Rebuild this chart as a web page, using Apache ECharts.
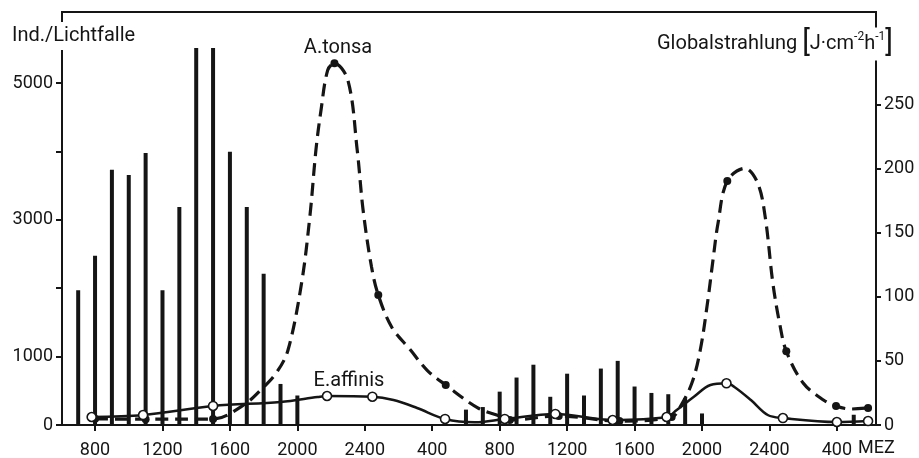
<!DOCTYPE html>
<html>
<head>
<meta charset="utf-8">
<script src="https://cdn.jsdelivr.net/npm/echarts@6/dist/echarts.min.js"></script>
<style>
  html, body { margin: 0; padding: 0; background: #fff; }
  #chart { width: 919px; height: 458px; }
</style>
</head>
<body>
<div id="chart"></div>
<script>
// hours counted from midnight of day 1 (24 = 2400, 28 = 400 next day ...)
const hourTicks = [8, 12, 16, 20, 24, 28, 32, 36, 40, 44, 48, 52];
const leftTicks = [0, 1000, 2000, 3000, 4000, 5000];
const leftLabels = [0, 1000, 3000, 5000];
const rightTicks = [0, 50, 100, 150, 200, 250];

// Globalstrahlung (J/cm2 h), hourly bars
const radHours = [7, 8, 9, 10, 11, 12, 13, 14, 15, 16, 17, 18, 19, 20,
  30, 31, 32, 33, 34, 35, 36, 37, 38, 39, 40, 41, 42, 43, 44, 53];
const radValues = [105, 132, 199, 195, 212, 105, 170, 294, 294, 213, 170, 118, 32, 23,
  12, 14, 26, 37, 47, 22, 40, 23, 44, 50, 30, 25, 24, 21, 9, 8];

// A.tonsa, Ind./Lichtfalle
const tonsaDots = [[8, 90], [11, 85], [15, 88], [22.2, 5290], [24.8, 1900], [28.8, 585],
  [32.6, 73], [35.5, 132], [39.1, 58], [42.2, 117], [45.5, 3570], [49.0, 1080],
  [51.95, 278], [53.85, 249]];
const tonsaCurve = [[8, 90], [11, 85], [15, 88], [16.8, 290], [17.9, 530], [18.8, 780],
  [19.45, 1100], [20.25, 2076], [20.75, 3070], [21.1, 4020], [21.4, 4600], [21.8, 5190],
  [22.2, 5290], [23.0, 5040], [23.55, 4020], [23.9, 3140], [24.4, 2310], [24.8, 1900],
  [25.6, 1430], [26.7, 1100], [27.7, 800], [28.8, 585], [30.7, 250], [32.0, 130],
  [32.6, 73], [35.5, 132], [39.1, 58], [42.2, 117], [42.7, 263], [43.4, 614],
  [43.9, 1100], [44.35, 1830], [44.65, 2410], [44.95, 2950], [45.5, 3570], [46.55, 3755],
  [47.3, 3540], [47.75, 3040], [48.2, 2080], [48.6, 1490], [49.0, 1080], [50.0, 614],
  [51.2, 366], [51.95, 278], [52.8, 234], [53.85, 249]];

// E.affinis, Ind./Lichtfalle
const affinisDots = [[7.8, 117], [10.85, 146], [15, 278], [21.76, 424], [24.45, 414],
  [28.76, 88], [32.3, 88], [35.3, 161], [38.7, 73], [41.9, 117], [45.45, 610],
  [48.8, 102], [52.0, 44], [53.85, 58]];
const affinisCurve = [[7.8, 117], [10.85, 146], [15, 278], [19, 336], [21.2, 409],
  [21.76, 424], [24.45, 414], [25.7, 365], [27.1, 249], [28.76, 88], [30.5, 40],
  [32.3, 88], [35.3, 161], [38.7, 73], [41.9, 117], [42.5, 219], [43.5, 409],
  [44.5, 585], [45.45, 610], [45.9, 560], [46.9, 365], [47.9, 146], [48.8, 102],
  [52.0, 44], [53.85, 58]];

const ink = '#151515';
const font = 'Roboto';

const chart = echarts.init(document.getElementById('chart'));
const option = {
  backgroundColor: '#fff',
  animation: false,
  grid: {
    left: 62, right: 43, top: 12, bottom: 33,
    containLabel: false,
    outerBoundsMode: 'none',
    show: true, borderColor: ink, borderWidth: 2
  },
  xAxis: {
    type: 'value',
    min: 6.04, max: 54.32,
    splitLine: { show: false },
    axisLine: { lineStyle: { color: ink, width: 2 } },
    axisTick: { customValues: hourTicks, length: 6, lineStyle: { color: ink, width: 2 } },
    axisLabel: {
      customValues: hourTicks,
      margin: 16,
      color: ink, fontSize: 18, fontFamily: font,
      formatter: v => {
        const h = v % 24;
        return String((h === 0 ? 24 : h) * 100);
      }
    }
  },
  yAxis: [
    {
      type: 'value',
      min: 0, max: 6040,
      splitLine: { show: false },
      axisLine: { show: true, lineStyle: { color: ink, width: 2 } },
      axisTick: { show: true, customValues: leftTicks, length: 6, lineStyle: { color: ink, width: 2 } },
      axisLabel: {
        customValues: leftLabels, margin: 9, color: ink, fontSize: 18, fontFamily: font,
        formatter: v => String(v)
      }
    },
    {
      type: 'value',
      min: 0, max: 322,
      position: 'right',
      splitLine: { show: false },
      axisLine: { show: true, lineStyle: { color: ink, width: 2 } },
      axisTick: { show: true, customValues: rightTicks, length: 5, lineStyle: { color: ink, width: 2 } },
      axisLabel: {
        customValues: rightTicks, margin: 8, color: ink, fontSize: 18, fontFamily: font,
        formatter: v => String(v)
      }
    }
  ],
  series: [
    {
      name: 'Globalstrahlung',
      type: 'bar',
      yAxisIndex: 1,
      barWidth: 4,
      itemStyle: { color: ink },
      data: radHours.map((h, i) => [h, radValues[i]])
    },
    {
      name: 'A.tonsa',
      type: 'line',
      smooth: 0.35,
      showSymbol: false,
      lineStyle: { color: ink, width: 3.2, type: [13, 7] },
      data: tonsaCurve,
      z: 3
    },
    {
      name: 'E.affinis',
      type: 'line',
      smooth: 0.35,
      showSymbol: false,
      lineStyle: { color: ink, width: 2.5 },
      data: affinisCurve,
      z: 3
    },
    {
      name: 'A.tonsa Punkte',
      type: 'scatter',
      symbol: 'circle',
      symbolSize: 8,
      itemStyle: { color: ink, opacity: 1 },
      data: tonsaDots,
      z: 4
    },
    {
      name: 'E.affinis Punkte',
      type: 'scatter',
      symbol: 'circle',
      symbolSize: 9,
      itemStyle: { color: '#fff', borderColor: ink, borderWidth: 1.6, opacity: 1 },
      data: affinisDots,
      z: 5
    }
  ],
  graphic: [
    {
      type: 'text', x: 10, y: 36, z: 100,
      style: {
        text: 'Ind./Lichtfalle', fill: ink, font: '20px ' + font,
        verticalAlign: 'middle', backgroundColor: '#fff', padding: [4, 2]
      }
    },
    {
      type: 'text', x: 655, y: 44, z: 100,
      style: {
        text: 'Globalstrahlung {b|[}J·cm{s|-2}h{s|-1}{b|]}',
        fill: ink, font: '20px ' + font,
        verticalAlign: 'middle', backgroundColor: '#fff', padding: [2, 2],
        rich: {
          b: { fontSize: 29, fontFamily: font, fill: ink, verticalAlign: 'middle' },
          s: { fontSize: 12, fontFamily: font, fill: ink, verticalAlign: 'middle', padding: [0, 0, 14, 0] }
        }
      }
    },
    {
      type: 'text', x: 338, y: 48, z: 100,
      style: { text: 'A.tonsa', fill: ink, font: '20px ' + font, align: 'center', verticalAlign: 'middle' }
    },
    {
      type: 'text', x: 349, y: 381, z: 100,
      style: { text: 'E.affinis', fill: ink, font: '20px ' + font, align: 'center', verticalAlign: 'middle' }
    },
    {
      type: 'text', x: 858, y: 448, z: 100,
      style: { text: 'MEZ', fill: ink, font: '18px ' + font, verticalAlign: 'middle' }
    }
  ]
};
chart.setOption(option);
</script>
</body>
</html>
